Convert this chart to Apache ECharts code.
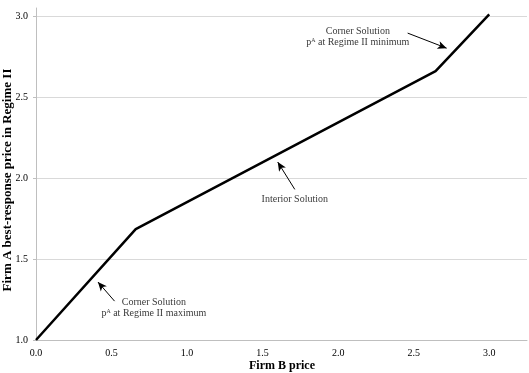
<!DOCTYPE html>
<html><head><meta charset="utf-8">
<script src="https://cdn.jsdelivr.net/npm/echarts@6/dist/echarts.min.js"></script>
<style>html,body{margin:0;padding:0;background:#fff}#c{width:529px;height:373px}</style>
</head><body><div id="c"></div>
<script>
const firmB = [0.0, 0.66, 2.645, 3.0];
const firmA = [1.0, 1.685, 2.66, 3.01];
const xTicks = [0.0, 0.5, 1.0, 1.5, 2.0, 2.5, 3.0];
const yTicks = [1.0, 1.5, 2.0, 2.5, 3.0];
const yTitle = 'Firm A best-response price in Regime II';
const xTitle = 'Firm B price';
const noteText = ['Corner Solution\np\u1D2C at Regime II maximum', 'Interior Solution', 'Corner Solution\np\u1D2C at Regime II minimum'];
const noteX = [0.78, 1.713, 2.13];
const noteY = [1.2, 1.87, 2.87];
const arrowFromX = [0.52, 1.713, 2.46];
const arrowFromY = [1.24, 1.93, 2.895];
const arrowToX = [0.41, 1.60, 2.718];
const arrowToY = [1.358, 2.099, 2.802];

const font = '"Liberation Serif", "Times New Roman", serif';
const chart = echarts.init(document.getElementById('c'));
chart.setOption({
  animation: false,
  grid: {left: 36, right: 2, top: 8, bottom: 33, containLabel: false, outerBoundsMode: 'none'},
  graphic: [{
    type: 'text', x: 8, y: 180, rotation: Math.PI / 2,
    style: {text: yTitle, font: 'bold 13px ' + font, fill: '#000', align: 'center', verticalAlign: 'middle'}
  }, {
    type: 'text', x: 282, y: 366,
    style: {text: xTitle, font: 'bold 12px ' + font, fill: '#000', align: 'center', verticalAlign: 'middle'}
  }],
  xAxis: {
    type: 'value', min: 0, max: 3.25, interval: 0.5,
    axisLine: {lineStyle: {color: '#bfbfbf'}},
    axisTick: {show: false},
    axisLabel: {fontFamily: font, fontSize: 10, color: '#000', showMaxLabel: false, margin: 8,
      formatter: v => xTicks.indexOf(v) >= 0 ? v.toFixed(1) : ''},
    splitLine: {show: false}
  },
  yAxis: {
    type: 'value', min: 1, max: 3.05, interval: 0.5,
    axisLine: {show: true, lineStyle: {color: '#bfbfbf'}},
    axisTick: {show: true, length: 3, lineStyle: {color: '#bfbfbf'}},
    axisLabel: {fontFamily: font, fontSize: 10, color: '#000', showMaxLabel: false, margin: 8,
      formatter: v => yTicks.indexOf(v) >= 0 ? v.toFixed(1) : ''},
    splitLine: {show: true, showMaxLine: false, lineStyle: {color: '#d9d9d9'}}
  },
  series: [
    {
      type: 'line', data: firmB.map((x, i) => [x, firmA[i]]), symbol: 'none', clip: false,
      lineStyle: {color: '#000', width: 2.5},
      markLine: {
        silent: true, symbol: ['none', 'arrow'], symbolSize: [6, 9],
        lineStyle: {color: '#000', width: 1, type: 'solid'},
        label: {show: false},
        data: arrowFromX.map((x, i) => [{coord: [x, arrowFromY[i]]}, {coord: [arrowToX[i], arrowToY[i]]}])
      }
    },
    {
      type: 'scatter', symbolSize: 0, silent: true,
      data: noteX.map((x, i) => [x, noteY[i]]),
      label: {show: true, position: 'inside', fontFamily: font, fontSize: 10, color: '#000', lineHeight: 11,
        align: 'center', formatter: p => noteText[p.dataIndex]}
    }
  ]
});
</script></body></html>
